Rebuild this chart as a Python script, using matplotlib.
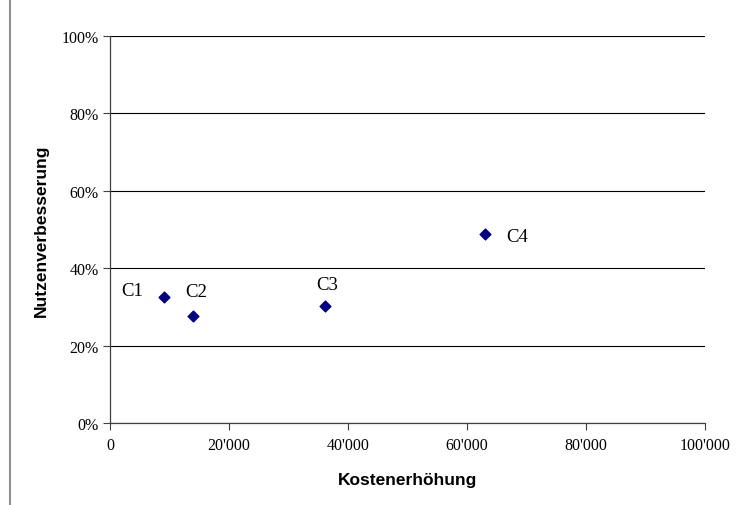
import matplotlib
matplotlib.use("Agg")
import matplotlib.pyplot as plt
from matplotlib.ticker import FuncFormatter
from matplotlib.lines import Line2D

labels = ["C1", "C2", "C3", "C4"]
kosten = [9000, 14000, 36200, 63000]
nutzen = [0.326, 0.276, 0.302, 0.488]
label_offsets = [(-31, 6), (3, 25), (2, 22), (32, -2)]
x_ticks = [0, 20000, 40000, 60000, 80000, 100000]
y_ticks = [0, 0.2, 0.4, 0.6, 0.8, 1.0]

fig = plt.figure(figsize=(7.37, 5.06), dpi=100)
ax = fig.add_axes([110/737, 1-424/506, (705-110)/737, (424-37)/506])

ax.scatter(kosten, nutzen, marker="D", s=30, color="#000080", zorder=3)
for lab, x, y, off in zip(labels, kosten, nutzen, label_offsets):
    ax.annotate(lab, (x, y), xytext=off, textcoords="offset pixels",
                ha="center", va="center", fontsize=13.5, family="Liberation Serif")

ax.set_xlim(0, 100000)
ax.set_ylim(0, 1.0)
ax.set_xticks(x_ticks)
ax.set_yticks(y_ticks)
ax.xaxis.set_major_formatter(FuncFormatter(lambda v, p: f"{int(v):,}".replace(",", "'")))
ax.yaxis.set_major_formatter(FuncFormatter(lambda v, p: f"{v*100:.0f}%"))
for t in ax.get_xticklabels() + ax.get_yticklabels():
    t.set_family("Liberation Serif")
    t.set_fontsize(11.5)
ax.tick_params(axis="both", direction="out", length=5, width=0.8, color="#404040")
ax.tick_params(axis="y", pad=3)
ax.tick_params(axis="x", pad=5)
ax.grid(axis="y", color="black", linewidth=0.8)
ax.set_axisbelow(True)
for s in ["top", "right"]:
    ax.spines[s].set_visible(False)
for s in ["left", "bottom"]:
    ax.spines[s].set_color("#404040")
    ax.spines[s].set_linewidth(0.9)

ax.set_xlabel("Kostenerhöhung", family="Liberation Sans", fontweight="bold", fontsize=12.5, labelpad=14)
ax.set_ylabel("Nutzenverbesserung", family="Liberation Sans", fontweight="bold", fontsize=12.5, labelpad=9)

fig.add_artist(Line2D([10/737, 10/737], [0, 1], transform=fig.transFigure, color="#909090", linewidth=1.5))

fig.savefig("out.png", dpi=100)
